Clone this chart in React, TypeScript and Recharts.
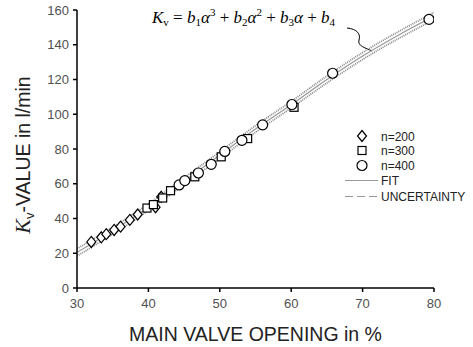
import React from "react";
import {
  ComposedChart,
  Line,
  Scatter,
  XAxis,
  YAxis,
} from "recharts";

// measured points, [opening %, Kv l/min]
const n200 = [
  [32, 26.5], [33.4, 29.2], [34.1, 31], [35.2, 33.4], [36.1, 35.3],
  [37.4, 39.2], [38.5, 42.3], [41, 46.5], [41.8, 52.5],
];
const n300 = [
  [39.8, 46], [40.7, 48], [42, 51.8], [43.1, 56], [46.5, 64],
  [50.2, 75.5], [53.9, 86], [60.4, 104],
];
const n400 = [
  [44.3, 59.3], [45.1, 61.8], [47, 66.2], [48.8, 71.2], [50.7, 78.6],
  [53.1, 85], [56, 93.9], [60.1, 105.6], [65.8, 123.6], [79.3, 154.6],
];

// fit curve and uncertainty band
const fitX = [30, 35, 40, 45, 50, 55, 60, 65, 70, 75, 80];
const fitY = [20.5, 33, 46.5, 61.5, 76.5, 91.5, 105.5, 120, 133.5, 145.5, 156.5];
const upperY = [22.6, 35, 48.4, 63.4, 78.4, 93.4, 107.4, 122, 135.5, 147.5, 158.6];
const lowerY = [18.4, 31, 44.6, 59.6, 74.6, 89.6, 103.6, 118, 131.5, 143.5, 154.4];

const xTicks = [30, 40, 50, 60, 70, 80];
const yTicks = [0, 20, 40, 60, 80, 100, 120, 140, 160];

const toPts = (arr: number[][]) => arr.map(([x, y]) => ({ x, y }));
const fitData = fitX.map((x, i) => ({ x, y: fitY[i] }));
const upperData = fitX.map((x, i) => ({ x, y: upperY[i] }));
const lowerData = fitX.map((x, i) => ({ x, y: lowerY[i] }));

const FONT = "'Liberation Sans', Arial, sans-serif";
const SERIF = "'Liberation Serif', 'DejaVu Serif', serif";

const Diamond = (p: any) => (
  <path
    d={`M${p.cx},${p.cy - 5.5} L${p.cx + 4.5},${p.cy} L${p.cx},${p.cy + 5.5} L${p.cx - 4.5},${p.cy} Z`}
    fill="#fff"
    stroke="#000"
    strokeWidth={1.2}
  />
);
const Square = (p: any) => (
  <rect x={p.cx - 4} y={p.cy - 4} width={8} height={8} fill="#fff" stroke="#000" strokeWidth={1.2} />
);
const Circle = (p: any) => (
  <circle cx={p.cx} cy={p.cy} r={5} fill="#fff" stroke="#000" strokeWidth={1.2} />
);

const tickStyle = { fontFamily: FONT, fontSize: 13, fill: "#505050" };

function Legend() {
  const items = [
    { label: "n=200", kind: "d", y: 136 },
    { label: "n=300", kind: "s", y: 150.5 },
    { label: "n=400", kind: "c", y: 165.5 },
    { label: "FIT", kind: "l", y: 180.5 },
    { label: "UNCERTAINTY", kind: "u", y: 196.5 },
  ];
  return (
    <g fontFamily={FONT} fontSize={12} fill="#222">
      {items.map((it) => (
        <g key={it.label}>
          {it.kind === "d" && <Diamond cx={362} cy={it.y} />}
          {it.kind === "s" && <Square cx={362} cy={it.y} />}
          {it.kind === "c" && <Circle cx={362} cy={it.y} />}
          {it.kind === "l" && <line x1={345} x2={378} y1={it.y} y2={it.y} stroke="#999" strokeWidth={1.2} />}
          {it.kind === "u" && (
            <line x1={345} x2={378} y1={it.y} y2={it.y} stroke="#999" strokeWidth={1.2} strokeDasharray="8 4" />
          )}
          <text x={381} y={it.y + 4.5}>{it.label}</text>
        </g>
      ))}
    </g>
  );
}

function Annotations() {
  return (
    <g>
      <text
        x={30}
        y={155}
        transform="rotate(-90 30 155)"
        textAnchor="middle"
        fontFamily={FONT}
        fontSize={19.5}
        fill="#222"
      >
        <tspan fontFamily={SERIF} fontStyle="italic" fontSize={22}>K</tspan>
        <tspan fontSize={13} dy={4}>v</tspan>
        <tspan dy={-4}>-VALUE in l/min</tspan>
      </text>
      <text
        x={255.5}
        y={341}
        textAnchor="middle"
        fontFamily={FONT}
        fontSize={19.5}
        fill="#222"
      >
        MAIN VALVE OPENING in %
      </text>
      <text x={152} y={23} fontFamily={SERIF} fontSize={17} fill="#000">
        <tspan fontStyle="italic">K</tspan>
        <tspan fontSize={11} dy={3}>v</tspan>
        <tspan dy={-3}> = </tspan>
        <tspan fontStyle="italic">b</tspan>
        <tspan fontSize={11} dy={3}>1</tspan>
        <tspan dy={-3} fontStyle="italic">α</tspan>
        <tspan fontSize={11} dy={-7}>3</tspan>
        <tspan dy={7}> + </tspan>
        <tspan fontStyle="italic">b</tspan>
        <tspan fontSize={11} dy={3}>2</tspan>
        <tspan dy={-3} fontStyle="italic">α</tspan>
        <tspan fontSize={11} dy={-7}>2</tspan>
        <tspan dy={7}> + </tspan>
        <tspan fontStyle="italic">b</tspan>
        <tspan fontSize={11} dy={3}>3</tspan>
        <tspan dy={-3} fontStyle="italic">α</tspan>
        <tspan> + </tspan>
        <tspan fontStyle="italic">b</tspan>
        <tspan fontSize={11} dy={3}>4</tspan>
      </text>
      <path
        d="M347,28 C357,29 361,34 359,40 C357,46 366,48 372,51"
        fill="none"
        stroke="#000"
        strokeWidth={1}
      />
      <Legend />
    </g>
  );
}

export default function App() {
  return (
    <div style={{ position: "absolute", left: 0, top: 0, width: 473, height: 347, background: "#fff" }}>
      <ComposedChart
        width={473}
        height={347}
        margin={{ top: 10, right: 39, bottom: 29, left: 37 }}
      >
        <XAxis
          type="number"
          dataKey="x"
          domain={[30, 80]}
          ticks={xTicks}
          allowDataOverflow
          stroke="#000"
          strokeWidth={1.5}
          tickSize={4}
          tickMargin={7}
          tick={tickStyle}
          tickLine={{ stroke: "#000" }}
          height={30}
        />
        <YAxis
          type="number"
          dataKey="y"
          domain={[0, 160]}
          ticks={yTicks}
          allowDataOverflow
          stroke="#000"
          strokeWidth={1.5}
          tickSize={4}
          tickMargin={4}
          tick={tickStyle}
          tickLine={{ stroke: "#000" }}
          width={40}
        />
        <Line data={upperData} dataKey="y" type="monotone" stroke="#888" strokeWidth={1.8} strokeDasharray="1 1" dot={false} isAnimationActive={false} />
        <Line data={lowerData} dataKey="y" type="monotone" stroke="#888" strokeWidth={1.8} strokeDasharray="1 1" dot={false} isAnimationActive={false} />
        <Line data={fitData} dataKey="y" type="monotone" stroke="#999" strokeWidth={1.2} dot={false} isAnimationActive={false} />
        <Scatter data={toPts(n200)} dataKey="y" shape={Diamond} isAnimationActive={false} />
        <Scatter data={toPts(n300)} dataKey="y" shape={Square} isAnimationActive={false} />
        <Scatter data={toPts(n400)} dataKey="y" shape={Circle} isAnimationActive={false} />
        <Annotations />
      </ComposedChart>
    </div>
  );
}
